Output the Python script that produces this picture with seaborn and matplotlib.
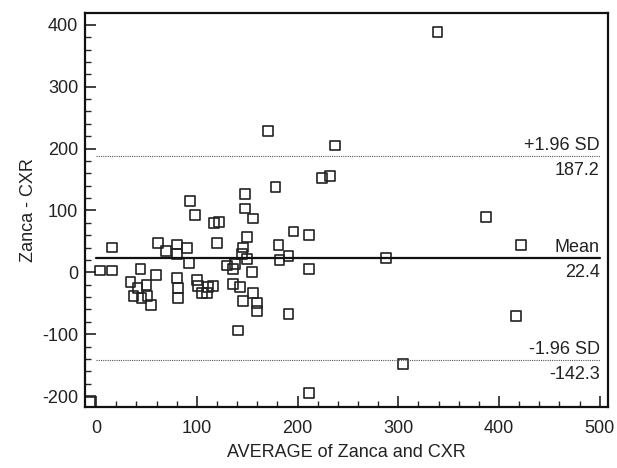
import pandas as pd
import matplotlib
matplotlib.use("Agg")
import matplotlib.pyplot as plt
from matplotlib.ticker import MultipleLocator
import seaborn as sns

# Bland-Altman: average of the two methods vs. difference
average = [-6, 4, 16, 16, 34, 37, 41, 44, 45, 50, 51, 54, 59, 61, 69, 80, 80,
           80, 81, 81, 90, 92, 93, 98, 100, 101, 105, 110, 111, 116, 117, 122,
           120, 130, 136, 138, 136, 143, 141, 145, 146, 148, 148, 150, 150,
           155, 156, 156, 160, 160, 146, 171, 178, 181, 182, 191, 191, 196,
           211, 211, 211, 224, 232, 237, 339, 288, 305, 387, 417, 422]
difference = [-209, 3, 3, 40, -16, -38, -26, 6, -41, -21, -38, -53, -4, 48, 34,
              45, 29, -9, -26, -42, 39, 15, 115, 92, -12, -22, -34, -33, -24,
              -22, 80, 81, 47, 11, 6, 14, -19, -24, -94, 29, 40, 103, 126, 57,
              21, 0, 87, -34, -49, -62, -47, 229, 138, 44, 20, 27, -68, 66, 60,
              6, -195, 152, 156, 205, 389, 23, -148, 89, -71, 44]

mean_diff = 22.4
upper_loa = 187.2
lower_loa = -142.3

df = pd.DataFrame({"average": average, "difference": difference})

sns.set_style("white")
plt.rcParams["font.family"] = ["Liberation Sans", "DejaVu Sans"]
plt.rcParams["axes.unicode_minus"] = False

fig = plt.figure(figsize=(6.17, 4.68), dpi=100)
ax = fig.add_axes([0.138, 0.130, 0.847, 0.842])

sns.scatterplot(data=df, x="average", y="difference", marker="s", s=50,
                facecolor="none", edgecolor="#222222", linewidth=1.2, ax=ax)

ax.plot([0, 500], [mean_diff, mean_diff], color="#111111", lw=1.6)
ax.plot([0, 500], [upper_loa, upper_loa], color="#555555", lw=0.8, ls=(0, (1, 1)))
ax.plot([0, 500], [lower_loa, lower_loa], color="#555555", lw=0.8, ls=(0, (1, 1)))

fs = 13
for yv, top, bottom in [(upper_loa, "+1.96 SD", f"{upper_loa:.1f}"),
                        (mean_diff, "Mean", f"{mean_diff:.1f}"),
                        (lower_loa, "-1.96 SD", f"{lower_loa:.1f}")]:
    ax.text(500, yv + 4, top, ha="right", va="bottom", fontsize=fs, color="#222222")
    ax.text(500, yv - 9, bottom, ha="right", va="top", fontsize=fs, color="#222222")

ax.set_xlim(-11, 508)
ax.set_ylim(-218, 419)
ax.xaxis.set_major_locator(MultipleLocator(100))
ax.xaxis.set_minor_locator(MultipleLocator(20))
ax.yaxis.set_major_locator(MultipleLocator(100))
ax.yaxis.set_minor_locator(MultipleLocator(20))
ax.tick_params(which="major", direction="in", length=8, width=1.2, labelsize=fs,
               colors="#222222", pad=5)
ax.tick_params(axis="x", which="major", pad=9)
ax.tick_params(which="minor", direction="in", length=4.5, width=1.0)
ax.tick_params(axis="both", which="both", bottom=True, left=True, top=False, right=False)

for sp in ax.spines.values():
    sp.set_linewidth(1.6)
    sp.set_color("#111111")

ax.set_xlabel("AVERAGE of Zanca and CXR", fontsize=fs, color="#222222", labelpad=5)
ax.set_ylabel("Zanca - CXR", fontsize=fs, color="#222222", labelpad=4)

fig.savefig("out.png", dpi=100)
